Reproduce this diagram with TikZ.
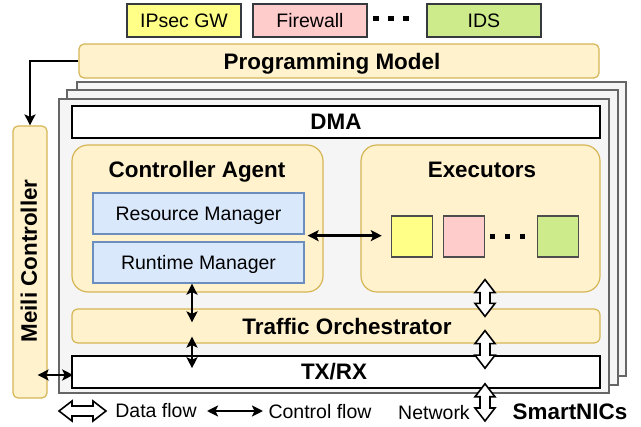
\documentclass[tikz,border=0pt]{standalone}
\usepackage{fontspec}
\setmainfont{Liberation Sans}
\usetikzlibrary{arrows.meta,calc}

\definecolor{ipsecfill}{HTML}{FFFF88}
\definecolor{fwfill}{HTML}{FFCCCC}
\definecolor{idsfill}{HTML}{CDEB8B}
\definecolor{darkline}{HTML}{36393D}
\definecolor{sqline}{HTML}{4D4D4D}
\definecolor{yfill}{HTML}{FFF2CC}
\definecolor{yline}{HTML}{D6B656}
\definecolor{bfill}{HTML}{DAE8FC}
\definecolor{bline}{HTML}{6C8EBF}
\definecolor{nicfill}{HTML}{F5F5F5}
\definecolor{nicline}{HTML}{666666}

\newcommand\regfont{\fontsize{19.5}{22}\selectfont}
\newcommand\boldfont{\fontsize{22.4}{25}\selectfont\bfseries}

% vertical hollow double arrow between two points (upper, lower)
\newcommand\vflow[2]{%
  \draw[flowshape] let \p1=(#1), \p2=(#2) in
    (\x1,\y1) -- ++(10pt,-13pt) -- ++(-5pt,0pt) -- (\x1+5pt,\y2+13pt)
    -- ++(5pt,0pt) -- (\x2,\y2) -- ++(-10pt,13pt) -- ++(5pt,0pt)
    -- (\x1-5pt,\y1-13pt) -- ++(-5pt,0pt) -- cycle;}
% horizontal hollow double arrow between two points (left, right)
\newcommand\hflow[2]{%
  \draw[flowshape] let \p1=(#1), \p2=(#2) in
    (\x1,\y1) -- ++(13pt,10pt) -- ++(0pt,-5pt) -- (\x2-13pt,\y1+5pt)
    -- ++(0pt,5pt) -- (\x2,\y2) -- ++(-13pt,-10pt) -- ++(0pt,5pt)
    -- (\x1+13pt,\y1-5pt) -- ++(0pt,-5pt) -- cycle;}

\tikzset{
  reglbl/.style={inner sep=0pt, font=\regfont, text height=14pt, text depth=0pt},
  boldlbl/.style={inner sep=0pt, font=\boldfont, text height=16pt, text depth=0pt},
  appbox/.style={reglbl, draw=darkline, line width=1.6pt, minimum width=114pt, minimum height=33pt},
  ybox/.style={draw=yline, fill=yfill, line width=1.2pt, inner sep=0pt},
  bluebox/.style={reglbl, draw=bline, fill=bfill, line width=1.3pt, minimum width=211pt, minimum height=41pt},
  whitebox/.style={boldlbl, draw=black, fill=white, line width=1.6pt, minimum width=528pt, minimum height=32pt},
  niclayer/.style={draw=nicline, fill=nicfill, line width=2.6pt},
  exsq/.style={draw=sqline, line width=1.5pt, minimum width=41pt, minimum height=41pt, inner sep=0pt},
  tip/.style={},
  ctrl/.style={line width=2.6pt, arrows={Stealth[length=11pt,width=11pt,inset=2.5pt]-Stealth[length=11pt,width=11pt,inset=2.5pt]}},
  ctrlone/.style={line width=2.6pt, arrows={-Stealth[length=11pt,width=11pt,inset=2.5pt]}},
  flowshape/.style={draw=black, fill=white, line width=1.6pt, line join=miter},
}

\begin{document}
\begin{tikzpicture}[x=1pt,y=-1pt]
\useasboundingbox (0,0) rectangle (641,427);

% network functions on top
\node[appbox, fill=ipsecfill] (ipsec) at (184,20.5) {IPsec GW};
\node[appbox, fill=fwfill] (fw) at (310,20.5) {Firewall};
\node[appbox, fill=idsfill] (ids) at (484,20.5) {IDS};
\foreach \x in {376,391,406} \fill (\x-2.6,15.6) rectangle (\x+2.6,20.8);

% programming model
\node[ybox, rounded corners=5pt, minimum width=520pt, minimum height=34pt] (pm) at (339,61) {};
\node[boldlbl] (pmtext) at (332,62) {Programming Model};

% stacked SmartNICs
\draw[niclayer] (77,82) rectangle (626,376);
\draw[niclayer] (67,90) rectangle (618,385);
\node[niclayer, minimum width=550pt, minimum height=294pt, inner sep=0pt] (nic) at (334,246) {};

% Meili controller
\node[ybox, rounded corners=5pt, minimum width=34pt, minimum height=272pt] (meili) at (30,262) {};
\node[boldlbl, rotate=90] (meilitext) at (29,261) {Meili Controller};

% SmartNIC internals
\node[whitebox] (dma) at (336,122) {DMA};

\node[ybox, rounded corners=16pt, minimum width=251pt, minimum height=147pt] (ca) at (197.5,218.5) {};
\node[boldlbl] (catext) at (197,169.5) {Controller Agent};
\node[bluebox] (rm) at (198.5,213.5) {Resource Manager};
\node[bluebox] (rt) at (198.5,262.5) {Runtime Manager};

\node[ybox, rounded corners=16pt, minimum width=239pt, minimum height=147pt] (ex) at (480.5,218.5) {};
\node[boldlbl] (extext) at (482,169.5) {Executors};
\node[exsq, fill=ipsecfill] (s1) at (412,236.5) {};
\node[exsq, fill=fwfill] (s2) at (464,236.5) {};
\node[exsq, fill=idsfill] (s3) at (558,236.5) {};
\foreach \x in {492.5,507.5,522.5} \fill (\x-2.6,233.6) rectangle (\x+2.6,238.8);

\node[ybox, rounded corners=6pt, minimum width=528pt, minimum height=34pt] (to) at (336,326) {};
\node[boldlbl] (totext) at (347,326.5) {Traffic Orchestrator};

\node[whitebox] (tx) at (336,372) {};
\node[boldlbl] (txtext) at (334,372) {TX/RX};

% control flow
\draw[ctrlone] (pm.west) -| (meili.north);
\draw[ctrl] ($(rm.south east)+(3,1)$) -- ($(s1.west |- rm.south east)+(-9,1)$);
\coordinate (cfx) at (192,0);
\draw[ctrl] (cfx |- rt.south) -- ($(cfx |- to.north)+(0,14)$);
\draw[ctrl] ($(cfx |- to.south)+(0,-7)$) -- ($(cfx |- tx.north)+(0,13)$);
\draw[ctrl] ($(meili.east |- tx.west)+(-10,3)$) -- ($(tx.west)+(2,3)$);

% data flow
\coordinate (dfx) at (485,0);
\coordinate (f1a) at ($(dfx |- ex.south)+(0,-13)$);
\coordinate (f1b) at ($(dfx |- to.north)+(0,8)$);
\coordinate (f2a) at ($(dfx |- to.south)+(0,-13)$);
\coordinate (f2b) at ($(dfx |- tx.north)+(0,13)$);
\coordinate (f3a) at ($(dfx |- tx.south)+(0,-5)$);
\coordinate (netend) at (485,421);
\vflow{f1a}{f1b}
\vflow{f2a}{f2b}
\vflow{f3a}{netend}

% legend
\coordinate (lda) at (59,411);
\coordinate (ldb) at (106,411);
\hflow{lda}{ldb}
\node[reglbl] (ldtext) at (156,411) {Data flow};
\coordinate (lca) at (207,411);
\coordinate (lcb) at (263,411);
\draw[ctrl] (lca) -- (lcb);
\node[reglbl] (lctext) at (320,412) {Control flow};
\node[reglbl] (nettext) at (434,412.5) {Network};
\node[boldlbl] (nictext) at (570,411.5) {SmartNICs};
\end{tikzpicture}
\end{document}
